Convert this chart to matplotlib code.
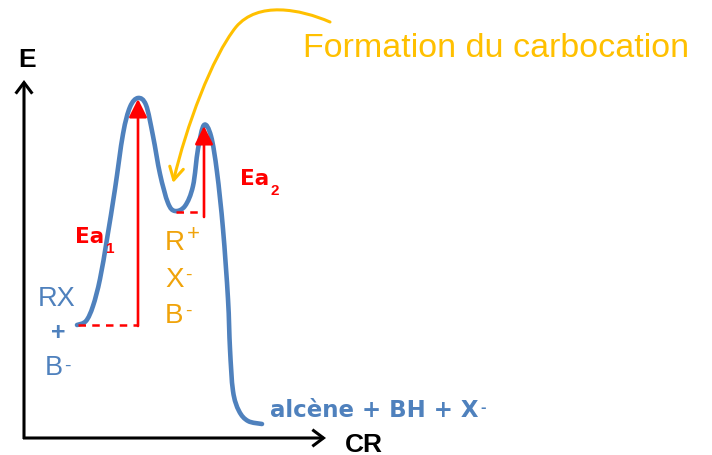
import matplotlib
matplotlib.use("Agg")
import matplotlib.pyplot as plt
from matplotlib.patches import FancyArrowPatch, PathPatch
from matplotlib.path import Path

plt.rcParams['font.family'] = ['Liberation Sans', 'DejaVu Sans']

# energy profile (x = reaction coordinate, y = energy, px units)
cr = [77, 86, 93, 100, 107, 115, 123, 130, 138, 146, 153, 160, 168, 175, 185, 193,
      198, 204, 211, 217, 223, 228, 230, 233, 239, 248, 262]
energy = [326, 322, 307, 280, 240, 190, 135, 108, 99, 106, 137, 175, 204, 212, 207, 187,
          150, 126, 137, 173, 230, 300, 350, 392, 412, 422, 425]

# reactant, intermediate and the two transition states
e_reactant = 326
e_ts1 = 100
e_inter = 212
e_ts2 = 127
cr_ts1 = 138
cr_ts2 = 204

BLUE = '#4F81BD'
RED = '#FF0000'
ORANGE = '#F0A30A'
GOLD = '#FFC000'

fig = plt.figure(figsize=(7.12, 4.56), dpi=100)
ax = fig.add_axes([0, 0, 1, 1])
ax.set_xlim(0, 712)
ax.set_ylim(456, 0)
ax.axis('off')


def smooth_path(xs, ys):
    # catmull-rom through the read points, handed to matplotlib as bezier segments
    pts = list(zip(xs, ys))
    verts, codes = [pts[0]], [Path.MOVETO]
    for i in range(len(pts) - 1):
        p0 = pts[max(i - 1, 0)]
        p1, p2 = pts[i], pts[i + 1]
        p3 = pts[min(i + 2, len(pts) - 1)]
        c1 = (p1[0] + (p2[0] - p0[0]) / 6, p1[1] + (p2[1] - p0[1]) / 6)
        c2 = (p2[0] - (p3[0] - p1[0]) / 6, p2[1] - (p3[1] - p1[1]) / 6)
        verts += [c1, c2, p2]
        codes += [Path.CURVE4] * 3
    return Path(verts, codes)


def sup(txt, s, color, dy=5, size=12, weight='normal'):
    ax.annotate(s, xy=(1, 1), xycoords=txt, xytext=(1, -dy), textcoords='offset points',
                color=color, fontsize=size, fontweight=weight, ha='left', va='top')


def sub(txt, s, color, size=11):
    ax.annotate(s, xy=(1, 0), xycoords=txt, xytext=(1, -4), textcoords='offset points',
                color=color, fontsize=size, fontweight='bold', ha='left', va='baseline')


# axes with open arrow heads
for start, end in [((24, 440), (24, 81)), ((23, 439), (326, 439))]:
    ax.add_patch(FancyArrowPatch(start, end, arrowstyle='->,head_length=8,head_width=6',
                                 mutation_scale=1, lw=2.2, color='black', shrinkA=0,
                                 shrinkB=0, capstyle='butt', joinstyle='miter'))
ax.text(27, 67, 'E', fontsize=19, fontweight='bold', ha='center', va='baseline')
ax.text(345, 452, 'CR', fontsize=19, fontweight='bold', ha='left', va='baseline')

# the curve
ax.add_patch(PathPatch(smooth_path(cr, energy), fill=False, edgecolor=BLUE, lw=3.3,
                       capstyle='round', joinstyle='round'))

# activation energies
ax.plot([cr[0] + 1, cr_ts1], [e_reactant, e_reactant], color=RED, lw=1.8, ls=(0, (3, 2.5)))
ax.plot([176, cr_ts2], [e_inter + 1, e_inter + 1], color=RED, lw=1.8, ls=(0, (3, 2.5)))
for (x0, y0), y1 in [((cr_ts1, e_reactant + 1), e_ts1), ((cr_ts2, e_inter + 6), e_ts2)]:
    ax.add_patch(FancyArrowPatch((x0, y0), (x0, y1),
                                 arrowstyle='-|>,head_length=11,head_width=5.5',
                                 mutation_scale=1, lw=1.9, color=RED, shrinkA=0, shrinkB=0))

ea1 = ax.text(75, 243, 'Ea', color=RED, fontsize=15.5, fontweight='bold',
              family='DejaVu Sans', va='baseline')
sub(ea1, '1', RED)
ea2 = ax.text(240, 185, 'Ea', color=RED, fontsize=15.5, fontweight='bold',
              family='DejaVu Sans', va='baseline')
sub(ea2, '2', RED)

# species labels
ax.text(57, 306, 'RX', color=BLUE, fontsize=19.5, ha='center', va='baseline')
ax.text(58, 333, '+', color=BLUE, fontsize=18, fontweight='bold', ha='center', va='center')
b1 = ax.text(45, 375, 'B', color=BLUE, fontsize=19.5, ha='left', va='baseline')
sup(b1, '-', BLUE, dy=2, size=14)

for lab, s, y in [('R', '+', 250), ('X', '-', 287), ('B', '-', 323)]:
    t = ax.text(165, y, lab, color=ORANGE, fontsize=20, ha='left', va='baseline')
    sup(t, s, ORANGE, dy=-4 if s == '+' else 0, size=16 if s == '+' else 14)

prod = ax.text(270, 417, 'alcène + BH + X', color=BLUE, fontsize=16.5, fontweight='bold',
               family='DejaVu Sans', ha='left', va='baseline')
sup(prod, '-', BLUE, dy=1, size=12, weight='bold')

# curved annotation arrow
bend = Path([(330, 23), (300, 10), (258, 2), (236, 28), (212, 58), (186, 128), (173, 184)],
            [Path.MOVETO, Path.CURVE4, Path.CURVE4, Path.CURVE4,
             Path.CURVE4, Path.CURVE4, Path.CURVE4])
ax.add_patch(FancyArrowPatch(path=bend, arrowstyle='->,head_length=9,head_width=5',
                             mutation_scale=1, lw=2.2, color=GOLD, shrinkA=0, shrinkB=0))
ax.text(303, 57, 'Formation du carbocation', color=GOLD, fontsize=24.5,
        ha='left', va='baseline')

fig.savefig('out.png', dpi=100)
